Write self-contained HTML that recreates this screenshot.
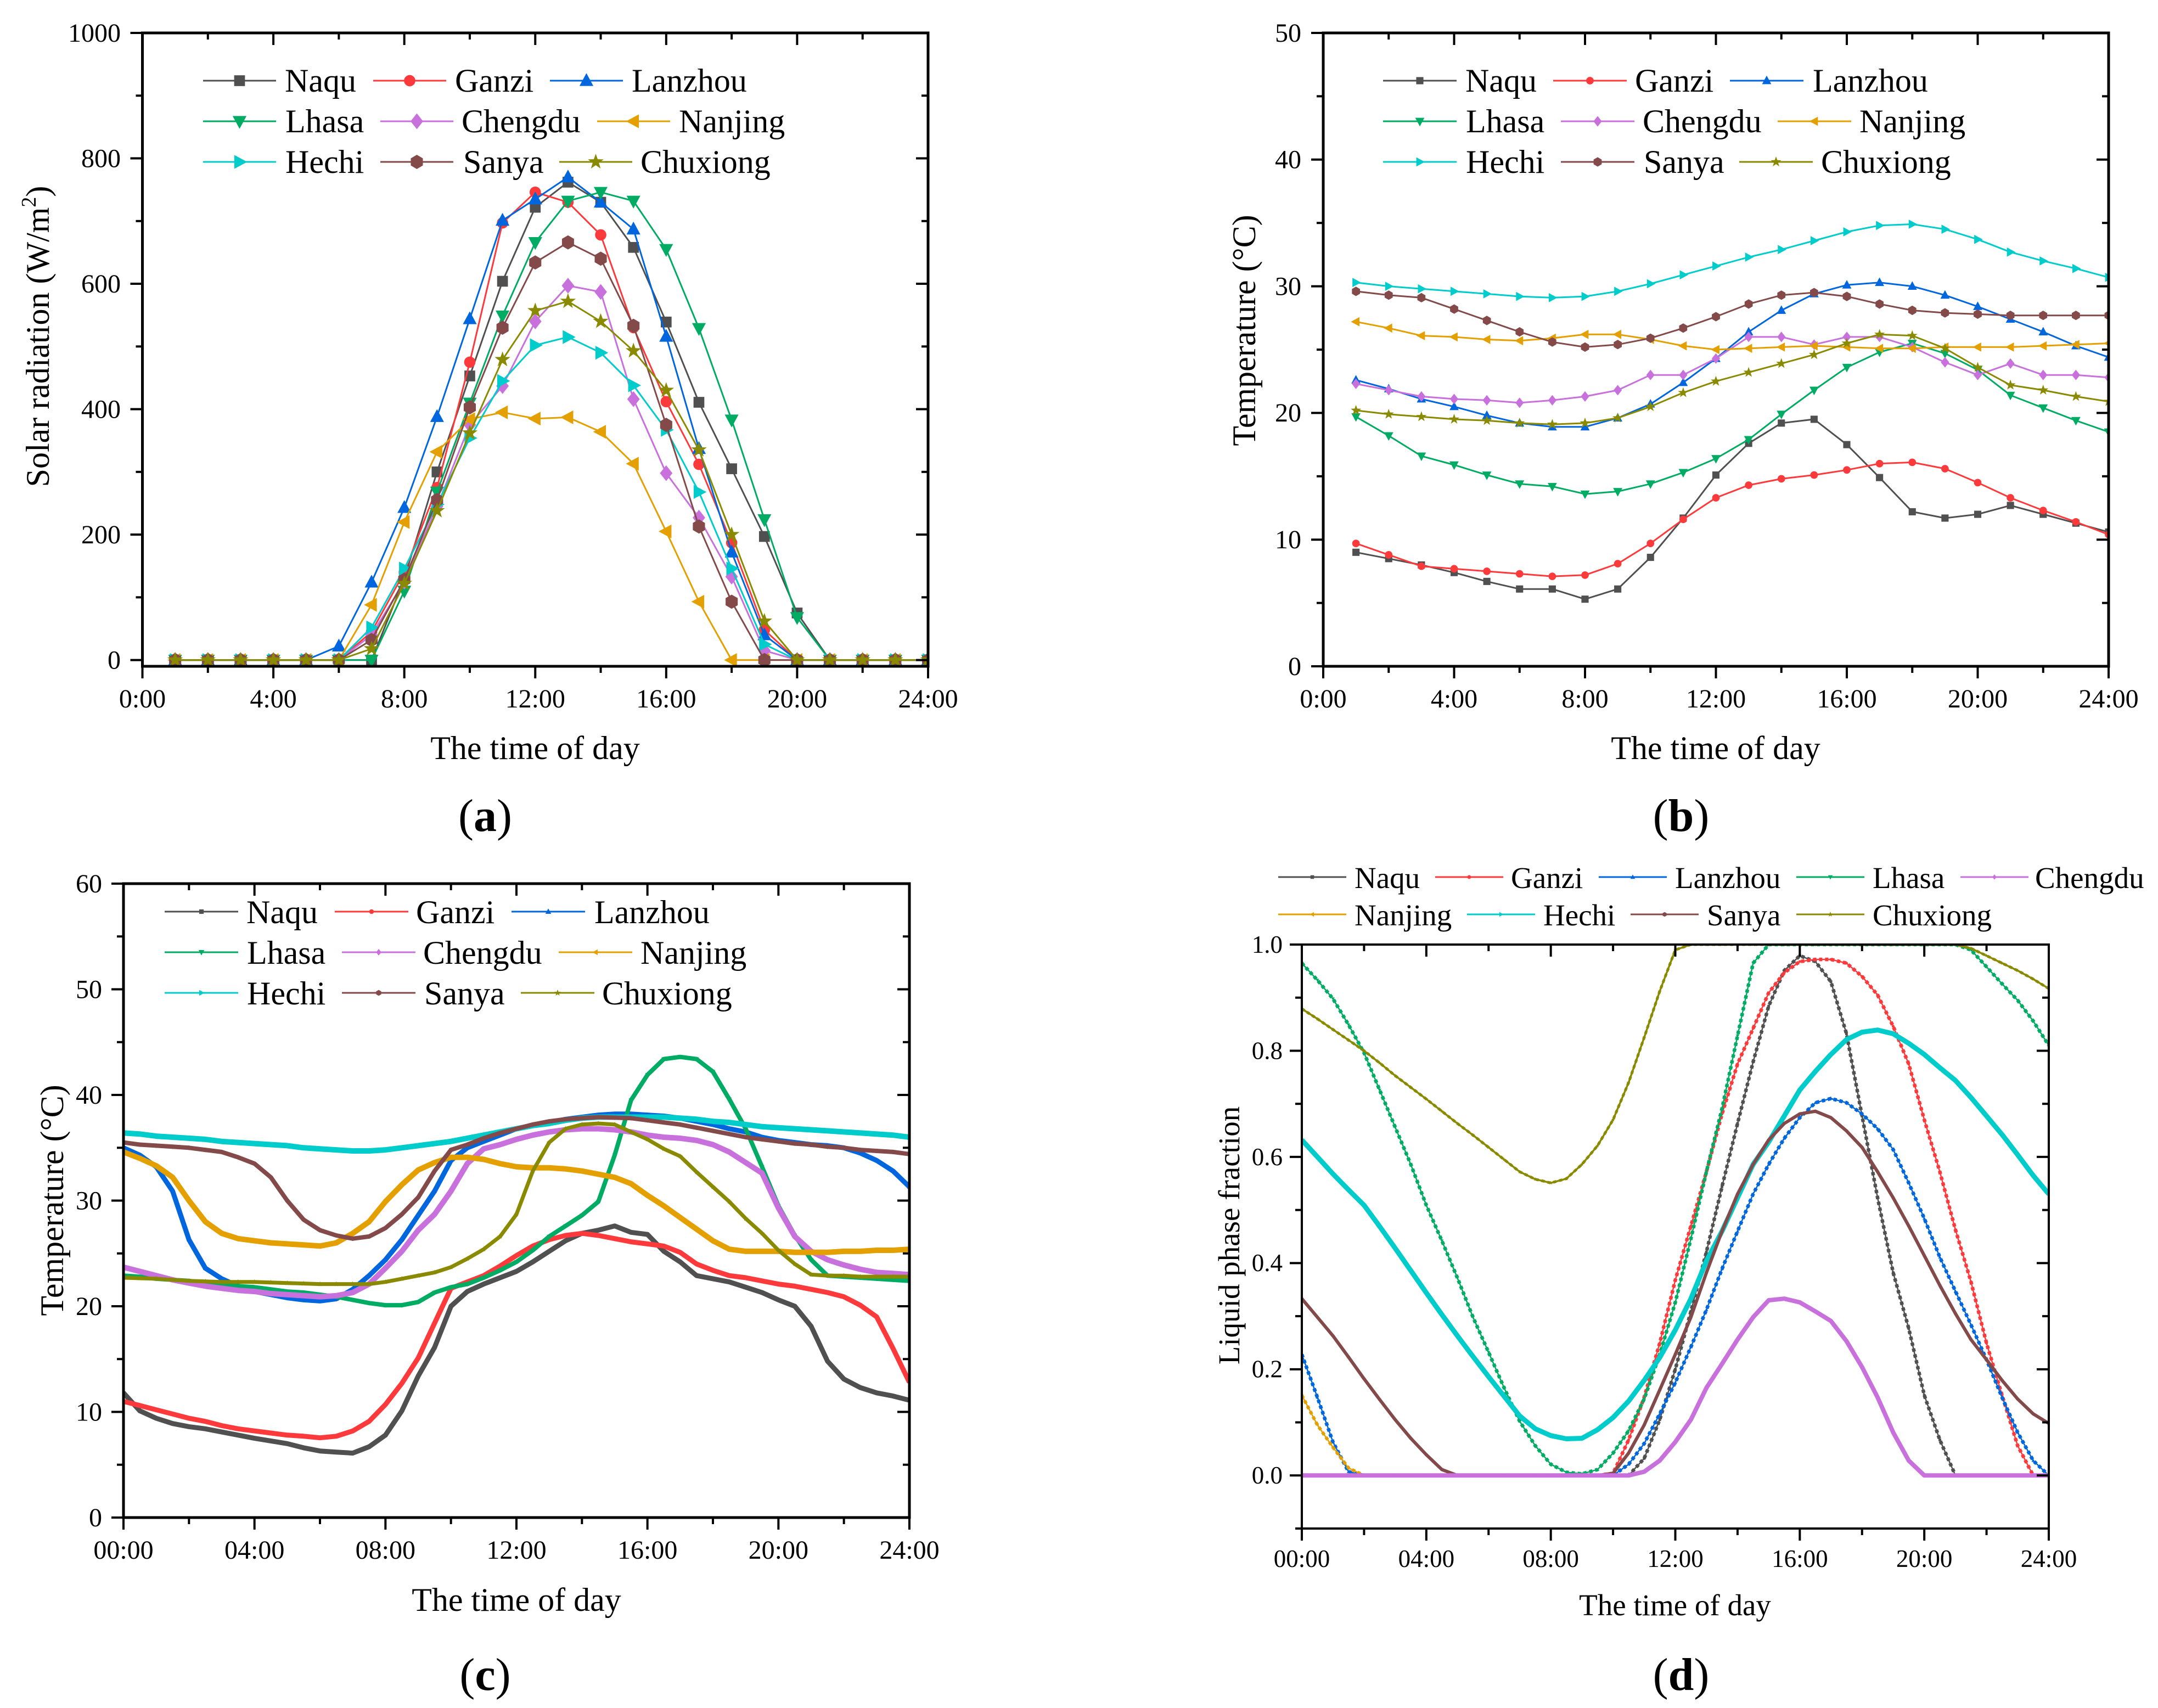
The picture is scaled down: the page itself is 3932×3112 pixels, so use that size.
<!DOCTYPE html>
<html lang="en">
<head>
<meta charset="utf-8">
<title>Solar radiation, temperature and liquid phase fraction</title>
<style>
html,body{margin:0;padding:0;background:#fff;}
svg{display:block;}
text{font-family:"Liberation Serif",serif;fill:#000;}
</style>
</head>
<body>
<svg id="figure" xmlns="http://www.w3.org/2000/svg" width="3932" height="3112" viewBox="0 0 3932 3112">
<rect x="0" y="0" width="3932" height="3112" fill="#fff"/>

<text x="975" y="1383" font-size="60" text-anchor="middle">The time of day</text>
<text transform="translate(89,613) rotate(-90)" font-size="60" text-anchor="middle">Solar radiation (W/m<tspan font-size="38" dy="-24">2</tspan><tspan dy="24">)</tspan></text>
<text x="884" y="1514" font-size="84" text-anchor="middle">(<tspan font-weight="bold">a</tspan>)</text>

<text x="3126" y="1383" font-size="60" text-anchor="middle">The time of day</text>
<text transform="translate(2287,602) rotate(-90)" font-size="60" text-anchor="middle">Temperature (°C)</text>
<text x="3063" y="1514" font-size="84" text-anchor="middle">(<tspan font-weight="bold">b</tspan>)</text>

<text x="941" y="2935" font-size="60" text-anchor="middle">The time of day</text>
<text transform="translate(115,2187) rotate(-90)" font-size="60" text-anchor="middle">Temperature (°C)</text>
<text x="884" y="3079" font-size="84" text-anchor="middle">(<tspan font-weight="bold">c</tspan>)</text>

<text x="3052" y="2943" font-size="55" text-anchor="middle">The time of day</text>
<text transform="translate(2258,2251) rotate(-90)" font-size="55" text-anchor="middle">Liquid phase fraction</text>
<text x="3063" y="3079" font-size="84" text-anchor="middle">(<tspan font-weight="bold">d</tspan>)</text>
</svg>

<script>
// ---------- shared categories ----------
const seriesNames = ['Naqu','Ganzi','Lanzhou','Lhasa','Chengdu','Nanjing','Hechi','Sanya','Chuxiong'];
const hourly = [1,2,3,4,5,6,7,8,9,10,11,12,13,14,15,16,17,18,19,20,21,22,23,24];
const halfHourly = [0,0.5,1,1.5,2,2.5,3,3.5,4,4.5,5,5.5,6,6.5,7,7.5,8,8.5,9,9.5,10,10.5,11,11.5,12,12.5,13,13.5,14,14.5,15,15.5,16,16.5,17,17.5,18,18.5,19,19.5,20,20.5,21,21.5,22,22.5,23,23.5,24];
const xMajorHours = [0,4,8,12,16,20,24];
const xMinorHours = [2,6,10,14,18,22];
const xLabelsShort = ['0:00','4:00','8:00','12:00','16:00','20:00','24:00'];
const xLabelsLong = ['00:00','04:00','08:00','12:00','16:00','20:00','24:00'];

// ---------- panel a: solar radiation ----------
const aMajorTicks = [0,200,400,600,800,1000];
const aMinorTicks = [100,300,500,700,900];
const aTickLabels = ['0','200','400','600','800','1000'];
const aNaqu = [0,0,0,0,0,0,0,130,300,453,604,722,762,730,658,539,411,305,197,75,0,0,0,0];
const aGanzi = [0,0,0,0,0,0,45,140,275,475,697,746,730,678,530,412,312,187,48,0,0,0,0,0];
const aLanzhou = [0,0,0,0,0,22,124,243,388,544,701,735,770,730,687,516,337,172,40,0,0,0,0,0];
const aLhasa = [0,0,0,0,0,0,0,110,268,410,549,666,732,746,732,655,529,383,224,68,0,0,0,0];
const aChengdu = [0,0,0,0,0,0,40,125,245,375,437,540,597,587,416,298,227,133,15,0,0,0,0,0];
const aNanjing = [0,0,0,0,0,0,88,220,332,384,395,385,387,364,313,205,93,0,0,0,0,0,0,0];
const aHechi = [0,0,0,0,0,0,52,146,248,354,445,502,515,490,438,367,268,146,25,0,0,0,0,0];
const aSanya = [0,0,0,0,0,0,32,128,255,403,530,634,666,640,533,375,213,93,0,0,0,0,0,0];
const aChuxiong = [0,0,0,0,0,0,18,122,238,362,479,557,572,540,493,430,335,200,62,0,0,0,0,0];

// ---------- panel b: ambient temperature ----------
const bMajorTicks = [0,10,20,30,40,50];
const bMinorTicks = [5,15,25,35,45];
const bTickLabels = ['0','10','20','30','40','50'];
const bNaqu = [9.0,8.5,8.0,7.4,6.7,6.1,6.1,5.3,6.1,8.6,11.7,15.1,17.6,19.2,19.5,17.5,14.9,12.2,11.7,12.0,12.7,12.0,11.3,10.6];
const bGanzi = [9.7,8.8,7.9,7.7,7.5,7.3,7.1,7.2,8.1,9.7,11.6,13.3,14.3,14.8,15.1,15.5,16.0,16.1,15.6,14.5,13.3,12.3,11.4,10.4];
const bLanzhou = [22.6,21.9,21.1,20.5,19.8,19.2,18.9,18.9,19.6,20.7,22.4,24.3,26.4,28.1,29.4,30.1,30.3,30.0,29.3,28.4,27.4,26.4,25.3,24.4];
const bLhasa = [19.7,18.2,16.6,15.9,15.1,14.4,14.2,13.6,13.8,14.4,15.3,16.4,17.9,19.9,21.8,23.6,24.8,25.5,24.7,23.4,21.4,20.4,19.4,18.5];
const bChengdu = [22.3,21.8,21.3,21.1,21.0,20.8,21.0,21.3,21.8,23.0,23.0,24.3,26.0,26.0,25.4,26.0,26.0,25.2,24.0,23.0,23.9,23.0,23.0,22.8];
const bNanjing = [27.2,26.7,26.1,26.0,25.8,25.7,25.9,26.2,26.2,25.8,25.3,25.0,25.1,25.2,25.3,25.2,25.1,25.1,25.2,25.2,25.2,25.3,25.4,25.5];
const bHechi = [30.3,30.0,29.8,29.6,29.4,29.2,29.1,29.2,29.6,30.2,30.9,31.6,32.3,32.9,33.6,34.3,34.8,34.9,34.5,33.7,32.7,32.0,31.4,30.7];
const bSanya = [29.6,29.3,29.1,28.2,27.3,26.4,25.6,25.2,25.4,25.9,26.7,27.6,28.6,29.3,29.5,29.2,28.6,28.1,27.9,27.8,27.7,27.7,27.7,27.7];
const bChuxiong = [20.2,19.9,19.7,19.5,19.4,19.2,19.1,19.2,19.6,20.5,21.6,22.5,23.2,23.9,24.6,25.5,26.2,26.1,25.1,23.6,22.2,21.8,21.3,20.9];

// ---------- panel c: module temperature ----------
const cMajorTicks = [0,10,20,30,40,50,60];
const cMinorTicks = [5,15,25,35,45,55];
const cTickLabels = ['0','10','20','30','40','50','60'];
const cNaqu = [11.8,10.1,9.4,8.9,8.6,8.4,8.1,7.8,7.5,7.25, 7.0,6.6,6.3,6.2,6.1,6.7,7.8,10.1,13.4,16.1, 20.0,21.4,22.1,22.7,23.3,24.2,25.2,26.2,26.9,27.2, 27.6,27.0,26.8,25.2,24.2,22.9,22.6,22.3,21.8,21.3, 20.6,20.0,18.1,14.8,13.1,12.3,11.8,11.5,11.1];
const cGanzi = [11.0,10.6,10.2,9.8,9.4,9.1,8.7,8.4,8.2,8.0, 7.8,7.7,7.55,7.7,8.2,9.1,10.7,12.7,15.1,18.4, 21.7,22.3,22.9,23.8,24.8,25.7,26.3,26.7,26.9,26.7, 26.4,26.1,25.9,25.7,25.1,24.0,23.4,22.9,22.7,22.4, 22.1,21.9,21.6,21.3,20.9,20.1,19.0,16.0,12.8];
const cLanzhou = [35.0,34.3,33.2,30.9,26.3,23.6,22.6,21.9,21.4,21.1, 20.8,20.6,20.5,20.7,21.6,22.9,24.4,26.3,28.6,30.9, 33.8,35.0,35.6,36.2,36.8,37.1,37.4,37.7,37.9,38.1, 38.2,38.2,38.1,38.0,37.8,37.5,37.2,36.8,36.5,36.0, 35.7,35.5,35.3,35.2,35.0,34.5,33.8,32.8,31.3];
const cLhasa = [22.9,22.8,22.6,22.5,22.4,22.2,22.1,21.9,21.8,21.6, 21.4,21.3,21.1,20.9,20.6,20.3,20.1,20.1,20.4,21.3, 21.8,22.1,22.7,23.4,24.2,25.3,26.6,27.6,28.6,29.9, 34.3,39.5,41.9,43.4,43.6,43.4,42.2,39.6,36.8,33.2, 29.5,26.7,24.4,22.9,22.8,22.7,22.6,22.5,22.4];
const cChengdu = [23.7,23.3,22.9,22.5,22.2,21.9,21.7,21.5,21.4,21.2, 21.1,21.0,20.9,21.0,21.3,22.1,23.6,25.2,27.2,28.7, 30.9,33.5,34.9,35.3,35.8,36.2,36.5,36.7,36.8,36.8, 36.7,36.5,36.2,36.0,35.9,35.7,35.3,34.6,33.6,32.6, 29.3,26.6,25.2,24.4,23.9,23.5,23.2,23.1,23.0];
const cNanjing = [34.6,34.0,33.3,32.2,30.0,28.0,26.9,26.4,26.2,26.0, 25.9,25.8,25.7,26.0,26.9,28.0,29.9,31.5,32.9,33.6, 34.1,34.1,33.9,33.5,33.2,33.1,33.1,33.0,32.8,32.5, 32.2,31.6,30.5,29.5,28.4,27.3,26.2,25.4,25.2,25.2, 25.2,25.1,25.1,25.1,25.2,25.2,25.3,25.3,25.4];
const cHechi = [36.4,36.3,36.1,36.0,35.9,35.8,35.6,35.5,35.4,35.3, 35.2,35.0,34.9,34.8,34.7,34.7,34.8,35.0,35.2,35.4, 35.6,35.9,36.2,36.5,36.8,37.1,37.3,37.6,37.8,37.9, 37.9,37.9,37.9,37.9,37.8,37.7,37.5,37.4,37.2,37.0, 36.9,36.8,36.7,36.6,36.5,36.4,36.3,36.2,36.0];
const cSanya = [35.5,35.3,35.2,35.1,35.0,34.8,34.6,34.1,33.5,32.2, 30.0,28.2,27.2,26.7,26.4,26.6,27.4,28.7,30.3,32.8, 34.8,35.3,35.9,36.4,36.8,37.2,37.5,37.7,37.8,37.9, 37.85,37.8,37.6,37.4,37.2,36.9,36.6,36.3,36.0,35.8, 35.6,35.4,35.3,35.1,35.0,34.8,34.7,34.6,34.4];
const cChuxiong = [22.7,22.65,22.6,22.5,22.4,22.35,22.3,22.3,22.3,22.25, 22.2,22.15,22.1,22.1,22.1,22.1,22.3,22.6,22.9,23.2, 23.7,24.5,25.4,26.6,28.7,32.8,35.5,36.8,37.2,37.3, 37.2,36.5,35.8,34.9,34.2,32.7,31.3,29.9,28.3,26.9, 25.3,24.0,23.0,22.9,22.9,22.8,22.8,22.8,22.8];

// ---------- panel d: liquid phase fraction ----------
const dMajorTicks = [0,0.2,0.4,0.6,0.8,1];
const dMinorTicks = [-0.1,0.1,0.3,0.5,0.7,0.9];
const dTickLabels = ['0.0','0.2','0.4','0.6','0.8','1.0'];
const dNaqu = [0,0,0,0,0,0,0,0,0,0, 0,0,0,0,0,0,0,0,0,0, 0,0,.032,.105,.2,.309,.421,.544,.663,.779, .884,.951,.979,.968,.93,.832,.677,.523,.382,.277, .151,.067,0,0,0,0,0,0,0];
const dGanzi = [0,0,0,0,0,0,0,0,0,0, 0,0,0,0,0,0,0,0,0,0, .004,.067,.147,.249,.368,.47,.572,.681,.775,.842, .909,.947,.968,.972,.972,.965,.94,.905,.846,.775, .67,.572,.463,.365,.249,.151,.056,0,0];
const dLanzhou = [.228,.147,.063,.007,0,0,0,0,0,0, 0,0,0,0,0,0,0,0,0,0, 0,.021,.06,.116,.175,.242,.312,.389,.46,.53, .586,.635,.674,.702,.71,.702,.681,.653,.614,.551, .484,.411,.347,.284,.218,.147,.081,.028,0];
const dLhasa = [.965,.933,.898,.849,.796,.726,.656,.586,.509,.442, .372,.298,.232,.165,.102,.056,.021,.006,.003,.011, .042,.084,.144,.228,.326,.446,.572,.691,.828,.965, 1,1,1,1,1,1,1,1,1,1, 1,1,1,.99,.958,.926,.895,.856,.81];
const dChengdu = [0,0,0,0,0,0,0,0,0,0, 0,0,0,0,0,0,0,0,0,0, 0,0,.007,.028,.063,.105,.165,.21,.256,.298, .33,.333,.326,.309,.291,.253,.204,.147,.081,.028, 0,0,0,0,0,0,0,0,0];
const dNanjing = [.151,.095,.053,.014,0];
const dHechi = [.632,.60,.568,.538,.509,.469,.428,.386,.344,.303, .263,.224,.186,.149,.112,.088,.075,.069,.07,.086, .109,.14,.179,.222,.274,.333,.404,.46,.523,.586, .628,.677,.726,.761,.793,.821,.835,.839,.832,.814, .793,.768,.744,.712,.677,.642,.604,.565,.53];
const dSanya = [.333,.298,.263,.223,.182,.143,.105,.07,.039,.011, 0,0,0,0,0,0,0,0,0,0, .004,.042,.095,.161,.228,.298,.382,.46,.53,.586, .632,.663,.681,.686,.674,.649,.618,.572,.523,.47, .414,.358,.305,.256,.218,.179,.144,.116,.098];
const dChuxiong = [.879,.86,.84,.82,.80,.777,.753,.731,.709,.686, .663,.641,.618,.595,.572,.558,.551,.559,.586,.621, .67,.74,.825,.912,.99,1,1,1,1,1, 1,1,1,1,1,1,1,1,1,1, 1,1,1,.993,.979,.965,.951,.935,.917];

// ---------- styling and layout (not data) ----------
const seriesColors = ['#505050','#fc3a3c','#0066dd','#00ab63','#c870dc','#e3a000','#00cccc','#844a4a','#8a8a00'];
const markerShapes = ['square','circle','triUp','triDown','diamond','triLeft','triRight','hexagon','star'];

const panels = [
  {id:'a', left:259.5, right:1691, top:60, bottom:1214, yMin:-10, yMax:1000, xs:hourly,
   series:[aNaqu,aGanzi,aLanzhou,aLhasa,aChengdu,aNanjing,aHechi,aSanya,aChuxiong],
   order:[0,1,2,3,4,5,6,7,8],
   major:aMajorTicks, minor:aMinorTicks, yLabels:aTickLabels, xLabels:xLabelsShort,
   yLabelX:220, xLabelY:1289, fs:48, axisW:5, marker:12, legendMarker:12,
   lineW:[3,3,3,3,3,3,3,3,3], bead:[0,0,0,0,0,0,0,0,0],
   legendRows:[147,221,295], legendBase:[167,241,315], legendFs:60, handleW:133,
   legend:[[0,0,370,519],[1,0,680,829],[2,0,1002,1151],[3,1,370,520],[4,1,693,841],[5,1,1088,1237],[6,2,370,520],[7,2,693,844],[8,2,1019,1167]]},
  {id:'b', left:2411, right:3842, top:60, bottom:1214, yMin:0, yMax:50, xs:hourly,
   series:[bNaqu,bGanzi,bLanzhou,bLhasa,bChengdu,bNanjing,bHechi,bSanya,bChuxiong],
   order:[0,1,2,3,4,5,6,7,8],
   major:bMajorTicks, minor:bMinorTicks, yLabels:bTickLabels, xLabels:xLabelsShort,
   yLabelX:2371, xLabelY:1289, fs:48, axisW:5, marker:8, legendMarker:8,
   lineW:[3,3,3,3,3,3,3,3,3], bead:[0,0,0,0,0,0,0,0,0],
   legendRows:[147,221,295], legendBase:[167,241,315], legendFs:60, handleW:134,
   legend:[[0,0,2520,2670],[1,0,2830,2979],[2,0,3152,3303],[3,1,2520,2671],[4,1,2844,2993],[5,1,3239,3388],[6,2,2520,2671],[7,2,2844,2995],[8,2,3169,3318]]},
  {id:'c', left:225, right:1657, top:1610, bottom:2765, yMin:0, yMax:60, xs:halfHourly,
   series:[cNaqu,cGanzi,cLanzhou,cLhasa,cChengdu,cNanjing,cHechi,cSanya,cChuxiong],
   order:[0,1,2,3,4,5,6,7,8],
   major:cMajorTicks, minor:cMinorTicks, yLabels:cTickLabels, xLabels:xLabelsLong,
   yLabelX:186, xLabelY:2840, fs:48, axisW:5, marker:4, legendMarker:5,
   lineW:[9,9,9,8,10,10,10,8,7], bead:[0,0,0,0,0,0,0,0,0],
   legendRows:[1661,1735,1809], legendBase:[1682,1756,1830], legendFs:60, handleW:134,
   legend:[[0,0,300,449],[1,0,610,758],[2,0,932,1083],[3,1,300,450],[4,1,623,771],[5,1,1018,1167],[6,2,300,450],[7,2,623,773],[8,2,949,1097]]},
  {id:'d', left:2372, right:3733, top:1721, bottom:2785, yMin:-0.1, yMax:1, xs:halfHourly,
   series:[dNaqu,dGanzi,dLanzhou,dLhasa,dChengdu,dNanjing,dHechi,dSanya,dChuxiong],
   order:[0,1,2,3,5,6,7,8,4],
   major:dMajorTicks, minor:dMinorTicks, yLabels:dTickLabels, xLabels:xLabelsLong,
   yLabelX:2337, xLabelY:2855, fs:45, axisW:4, marker:3, legendMarker:4,
   lineW:[2.5,2.5,2.5,2.5,8,2.5,9,6,3.5], bead:[6.5,6.5,6.5,6.5,0,6,0,0,5],
   legendRows:[1598,1666], legendBase:[1618,1686], legendFs:55, handleW:124,
   legend:[[0,0,2329,2468],[1,0,2615,2753],[2,0,2913,3052],[3,0,3273,3412],[4,0,3572,3708],[5,1,2329,2468],[6,1,2673,2812],[7,1,2971,3110],[8,1,3273,3412]]}
];

const NS = 'http://www.w3.org/2000/svg';
const svg = document.getElementById('figure');

function make(tag, attrs, parent){
  const node = document.createElementNS(NS, tag);
  for (const k in attrs) node.setAttribute(k, attrs[k]);
  parent.appendChild(node);
  return node;
}

function markerNode(shape, x, y, s, color, parent){
  const f = {fill:color};
  const pts = (list) => list.map(p => (x + p[0]*s).toFixed(1) + ',' + (y + p[1]*s).toFixed(1)).join(' ');
  if (shape === 'square') return make('rect', {x:x-s*0.82, y:y-s*0.82, width:s*1.64, height:s*1.64, fill:color}, parent);
  if (shape === 'circle') return make('circle', {cx:x, cy:y, r:s*0.86, fill:color}, parent);
  if (shape === 'triUp') return make('polygon', Object.assign({points:pts([[0,-1.15],[1.05,0.8],[-1.05,0.8]])}, f), parent);
  if (shape === 'triDown') return make('polygon', Object.assign({points:pts([[0,1.15],[1.05,-0.8],[-1.05,-0.8]])}, f), parent);
  if (shape === 'triLeft') return make('polygon', Object.assign({points:pts([[-1.15,0],[0.8,-1.05],[0.8,1.05]])}, f), parent);
  if (shape === 'triRight') return make('polygon', Object.assign({points:pts([[1.15,0],[-0.8,-1.05],[-0.8,1.05]])}, f), parent);
  if (shape === 'diamond') return make('polygon', Object.assign({points:pts([[0,-1.2],[0.95,0],[0,1.2],[-0.95,0]])}, f), parent);
  if (shape === 'hexagon') return make('polygon', Object.assign({points:pts([[0,-1.08],[0.92,-0.54],[0.92,0.54],[0,1.08],[-0.92,0.54],[-0.92,-0.54]])}, f), parent);
  const star = [];
  for (let i = 0; i < 10; i++){
    const r = (i % 2 ? 0.5 : 1.25);
    const a = -Math.PI/2 + i*Math.PI/5;
    star.push([r*Math.cos(a), r*Math.sin(a)]);
  }
  return make('polygon', Object.assign({points:pts(star)}, f), parent);
}

panels.forEach(function(p){
  const sx = h => p.left + (h/24)*(p.right - p.left);
  const sy = v => p.bottom - ((v - p.yMin)/(p.yMax - p.yMin))*(p.bottom - p.top);

  const panel = make('g', {}, svg);
  
  

  const clip = make('clipPath', {id:'clip-' + p.id}, panel);
  make('rect', {x:p.left, y:p.top, width:p.right-p.left, height:p.bottom-p.top}, clip);

  const plot = make('g', {'clip-path':'url(#clip-' + p.id + ')'}, panel);
  
  

  p.order.forEach(function(i){
    const vals = p.series[i];
    const g = make('g', {}, plot);
    
    
    const pointList = vals.map((v, j) => sx(p.xs[j]).toFixed(1) + ',' + sy(v).toFixed(1)).join(' ');
    const line = make('polyline', {points:pointList, fill:'none', stroke:seriesColors[i], 'stroke-width':p.lineW[i], 'stroke-linejoin':'round'}, g);
    
    
    if (p.bead[i] > 0){
      const beads = make('polyline', {points:pointList, fill:'none', stroke:seriesColors[i], 'stroke-width':p.bead[i], 'stroke-dasharray':'6 5'}, g);
      
      
    }
    vals.forEach(function(v, j){
      const m = markerNode(markerShapes[i], sx(p.xs[j]), sy(v), p.marker, seriesColors[i], g);
      
      
    });
  });

  // frame
  const frame = make('rect', {x:p.left, y:p.top, width:p.right-p.left, height:p.bottom-p.top, fill:'none', stroke:'#000', 'stroke-width':p.axisW}, panel);
  
  

  const tickG = make('g', {stroke:'#000', 'stroke-width':4}, panel);
  
  
  const majorLen = 22, minorLen = 12;

  xMajorHours.forEach(function(h, i){
    const x = sx(h);
    const t1 = make('line', {x1:x, x2:x, y1:p.bottom, y2:p.bottom+majorLen}, tickG);
    
    
    const t2 = make('line', {x1:x, x2:x, y1:p.top, y2:p.top+majorLen}, tickG);
    
    
    const lab = make('text', {x:x, y:p.xLabelY, 'font-size':p.fs, 'text-anchor':'middle'}, panel);
    lab.textContent = p.xLabels[i];
    
    
  });
  xMinorHours.forEach(function(h){
    const x = sx(h);
    const t1 = make('line', {x1:x, x2:x, y1:p.bottom, y2:p.bottom+minorLen}, tickG);
    
    
    const t2 = make('line', {x1:x, x2:x, y1:p.top, y2:p.top+minorLen}, tickG);
    
    
  });
  p.major.forEach(function(v, i){
    const y = sy(v);
    const t1 = make('line', {x1:p.left-majorLen, x2:p.left, y1:y, y2:y}, tickG);
    
    
    const t2 = make('line', {x1:p.right-majorLen, x2:p.right, y1:y, y2:y}, tickG);
    
    
    const lab = make('text', {x:p.yLabelX, y:y + p.fs*0.33, 'font-size':p.fs, 'text-anchor':'end'}, panel);
    lab.textContent = p.yLabels[i];
    
    
  });
  p.minor.forEach(function(v){
    const y = sy(v);
    const t1 = make('line', {x1:p.left-minorLen, x2:p.left, y1:y, y2:y}, tickG);
    
    
    const t2 = make('line', {x1:p.right-minorLen, x2:p.right, y1:y, y2:y}, tickG);
    
    
  });

  // legend
  const legend = make('g', {}, panel);
  
  
  p.legend.forEach(function(e){
    const idx = e[0], row = e[1], hx = e[2], tx = e[3];
    const entry = make('g', {}, legend);
    
    
    const y = p.legendRows[row];
    make('line', {x1:hx, x2:hx+p.handleW, y1:y, y2:y, stroke:seriesColors[idx], 'stroke-width':3}, entry);
    markerNode(markerShapes[idx], hx+p.handleW/2, y, p.legendMarker, seriesColors[idx], entry);
    const t = make('text', {x:tx, y:p.legendBase[row], 'font-size':p.legendFs}, entry);
    t.textContent = seriesNames[idx];
  });
});
</script>
</body>
</html>
